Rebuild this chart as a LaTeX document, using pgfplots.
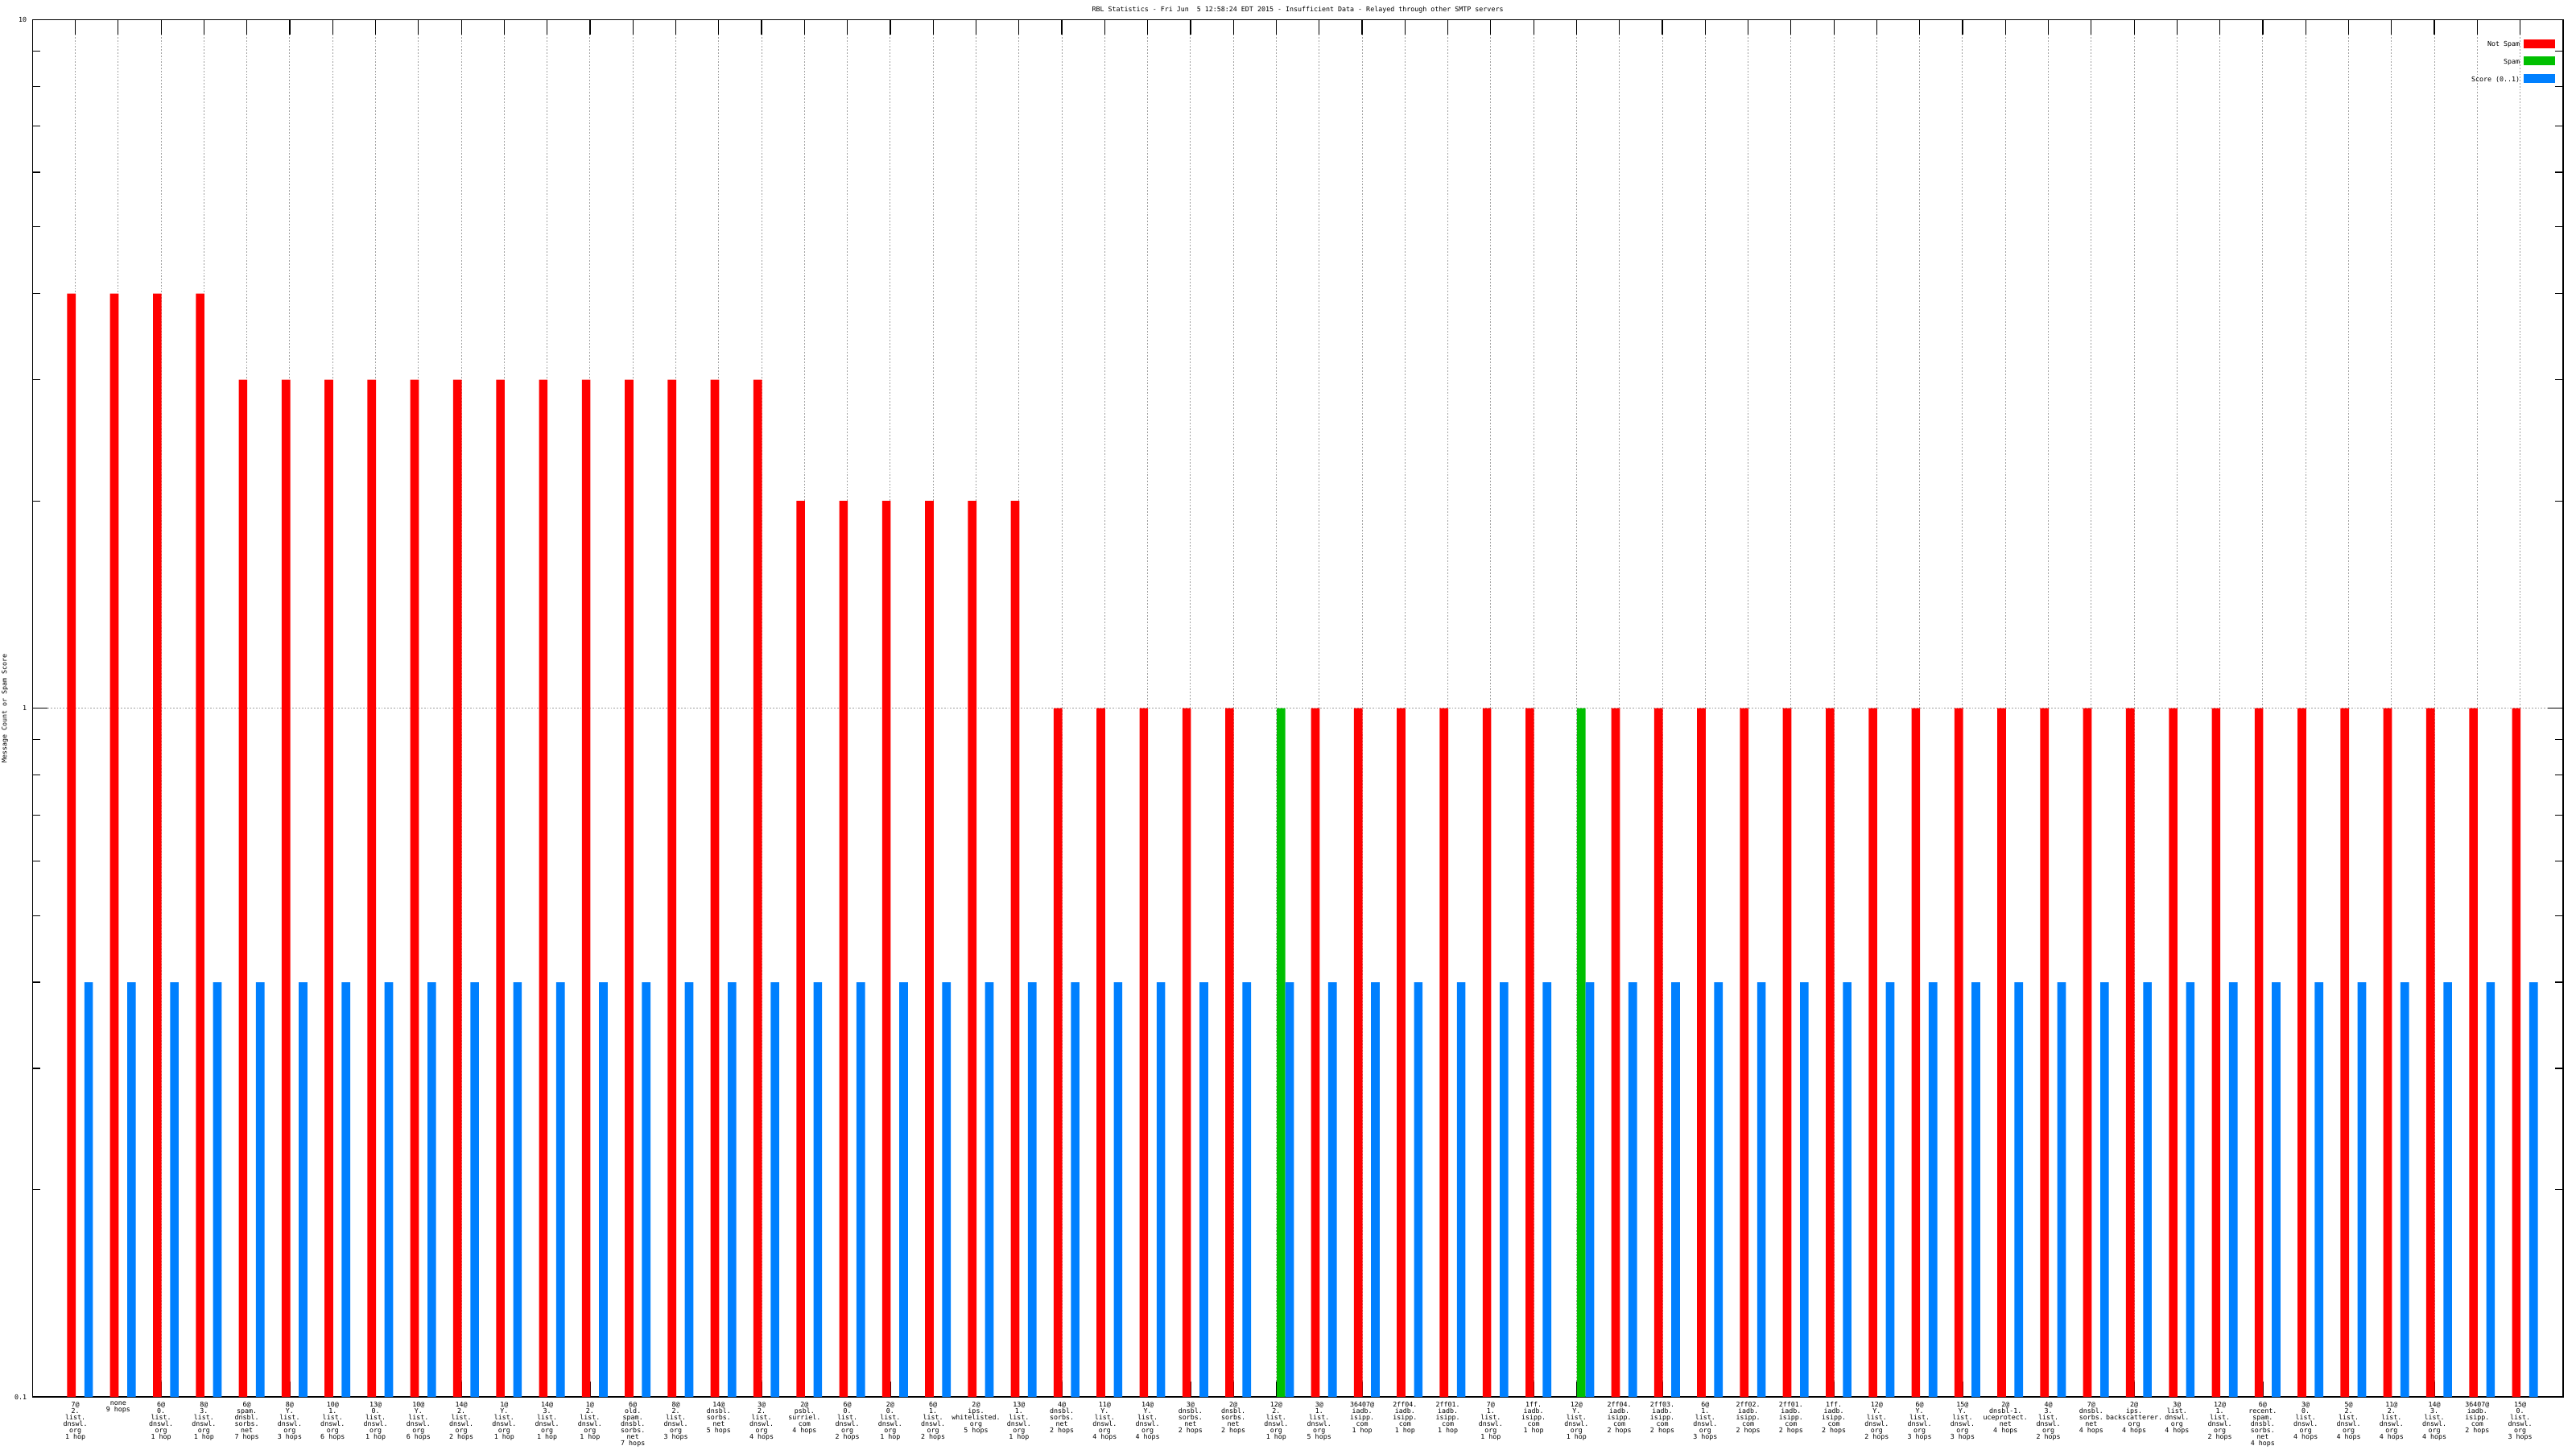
\documentclass[border=0pt]{standalone}
\usepackage{fontspec}
\setmainfont{DejaVu Sans Mono}
\usepackage{pgfplots}
\pgfplotsset{compat=1.18}
\definecolor{nsred}{RGB}{255,0,0}
\definecolor{spgreen}{RGB}{0,192,0}
\definecolor{scblue}{RGB}{0,128,255}
\definecolor{gridgray}{RGB}{160,160,160}
\newcommand\gfont{\fontsize{2.08pt}{2.03pt}\selectfont}
\begin{document}
\begin{tikzpicture}
\begin{axis}[
  at={(0,0)}, anchor=south west,
  scale only axis, width=785.9pt, height=427.675pt,
  ymode=log, ymin=0.1, ymax=10, log origin y=infty,
  xmin=-1, xmax=58,
  xtick={0,...,57},
  xticklabels={
{7@\\2.\\list.\\dnswl.\\org\\1 hop},
{none\\9 hops},
{6@\\0.\\list.\\dnswl.\\org\\1 hop},
{8@\\3.\\list.\\dnswl.\\org\\1 hop},
{6@\\spam.\\dnsbl.\\sorbs.\\net\\7 hops},
{8@\\Y.\\list.\\dnswl.\\org\\3 hops},
{10@\\1.\\list.\\dnswl.\\org\\6 hops},
{13@\\0.\\list.\\dnswl.\\org\\1 hop},
{10@\\Y.\\list.\\dnswl.\\org\\6 hops},
{14@\\2.\\list.\\dnswl.\\org\\2 hops},
{1@\\Y.\\list.\\dnswl.\\org\\1 hop},
{14@\\3.\\list.\\dnswl.\\org\\1 hop},
{1@\\2.\\list.\\dnswl.\\org\\1 hop},
{6@\\old.\\spam.\\dnsbl.\\sorbs.\\net\\7 hops},
{8@\\2.\\list.\\dnswl.\\org\\3 hops},
{14@\\dnsbl.\\sorbs.\\net\\5 hops},
{3@\\2.\\list.\\dnswl.\\org\\4 hops},
{2@\\psbl.\\surriel.\\com\\4 hops},
{6@\\0.\\list.\\dnswl.\\org\\2 hops},
{2@\\0.\\list.\\dnswl.\\org\\1 hop},
{6@\\1.\\list.\\dnswl.\\org\\2 hops},
{2@\\ips.\\whitelisted.\\org\\5 hops},
{13@\\1.\\list.\\dnswl.\\org\\1 hop},
{4@\\dnsbl.\\sorbs.\\net\\2 hops},
{11@\\Y.\\list.\\dnswl.\\org\\4 hops},
{14@\\Y.\\list.\\dnswl.\\org\\4 hops},
{3@\\dnsbl.\\sorbs.\\net\\2 hops},
{2@\\dnsbl.\\sorbs.\\net\\2 hops},
{12@\\2.\\list.\\dnswl.\\org\\1 hop},
{3@\\1.\\list.\\dnswl.\\org\\5 hops},
{36407@\\iadb.\\isipp.\\com\\1 hop},
{2ff04.\\iadb.\\isipp.\\com\\1 hop},
{2ff01.\\iadb.\\isipp.\\com\\1 hop},
{7@\\1.\\list.\\dnswl.\\org\\1 hop},
{1ff.\\iadb.\\isipp.\\com\\1 hop},
{12@\\Y.\\list.\\dnswl.\\org\\1 hop},
{2ff04.\\iadb.\\isipp.\\com\\2 hops},
{2ff03.\\iadb.\\isipp.\\com\\2 hops},
{6@\\1.\\list.\\dnswl.\\org\\3 hops},
{2ff02.\\iadb.\\isipp.\\com\\2 hops},
{2ff01.\\iadb.\\isipp.\\com\\2 hops},
{1ff.\\iadb.\\isipp.\\com\\2 hops},
{12@\\Y.\\list.\\dnswl.\\org\\2 hops},
{6@\\Y.\\list.\\dnswl.\\org\\3 hops},
{15@\\Y.\\list.\\dnswl.\\org\\3 hops},
{2@\\dnsbl-1.\\uceprotect.\\net\\4 hops},
{4@\\3.\\list.\\dnswl.\\org\\2 hops},
{7@\\dnsbl.\\sorbs.\\net\\4 hops},
{2@\\ips.\\backscatterer.\\org\\4 hops},
{3@\\list.\\dnswl.\\org\\4 hops},
{12@\\1.\\list.\\dnswl.\\org\\2 hops},
{6@\\recent.\\spam.\\dnsbl.\\sorbs.\\net\\4 hops},
{3@\\0.\\list.\\dnswl.\\org\\4 hops},
{5@\\2.\\list.\\dnswl.\\org\\4 hops},
{11@\\2.\\list.\\dnswl.\\org\\4 hops},
{14@\\3.\\list.\\dnswl.\\org\\4 hops},
{36407@\\iadb.\\isipp.\\com\\2 hops},
{15@\\0.\\list.\\dnswl.\\org\\3 hops}
  },
  ytick={0.1,1,10}, yticklabels={0.1,1,10},
  minor ytick={0.2,0.3,0.4,0.5,0.6,0.7,0.8,0.9,2,3,4,5,6,7,8,9},
  tick align=inside, tick pos=both,
  major tick length=4.7pt, minor tick length=2.4pt,
  tick style={black, line width=0.3pt},
  axis line style={line width=0.3pt},
  xmajorgrids, ymajorgrids,
  major grid style={gridgray, line width=0.25pt, dash pattern=on 0.45pt off 0.5pt},
  font=\gfont,
  xticklabel style={font=\gfont, align=center, inner sep=0pt, anchor=north, yshift=-1.3pt},
  yticklabel style={font=\gfont, inner sep=0pt, anchor=east, xshift=-1.6pt},
  title={RBL Statistics - Fri Jun~~5 12:58:24 EDT 2015 - Insufficient Data - Relayed through other SMTP servers},
  every axis title/.style={at={(0.5,1)}, anchor=center, yshift=3.1pt, font=\gfont, inner sep=0pt},
  ylabel={Message Count or Spam Score},
  every axis y label/.style={at={(rel axis cs:0,0.5)}, xshift=-8.5pt, rotate=90, anchor=center, font=\gfont, inner sep=0pt},
  legend style={at={(1,1)}, anchor=north east, xshift=-2.25pt, yshift=-5.9pt, draw=none, fill=none, inner sep=0pt, row sep=1.65pt, column sep=1.25pt, nodes={inner sep=0pt, font=\gfont}},
  legend plot pos=right, legend cell align=right,
]
\addplot[ybar, bar width=0.2, bar shift=-0.09, fill=nsred, draw=none,
  legend image code/.code={\fill[nsred] (0pt,-0.5pt) rectangle (9.75pt,2.25pt);}]
  coordinates {(0,4)(1,4)(2,4)(3,4)
  (4,3)(5,3)(6,3)(7,3)(8,3)(9,3)(10,3)(11,3)(12,3)(13,3)(14,3)(15,3)(16,3)
  (17,2)(18,2)(19,2)(20,2)(21,2)(22,2)
  (23,1)(24,1)(25,1)(26,1)(27,1)
  (29,1)(30,1)(31,1)(32,1)(33,1)(34,1)
  (36,1)(37,1)(38,1)(39,1)(40,1)(41,1)(42,1)(43,1)(44,1)(45,1)(46,1)
  (47,1)(48,1)(49,1)(50,1)(51,1)(52,1)(53,1)(54,1)(55,1)(56,1)(57,1)};
\addlegendentry{Not Spam}
\addplot[ybar, bar width=0.2, bar shift=0.11, fill=spgreen, draw=none,
  legend image code/.code={\fill[spgreen] (0pt,-0.5pt) rectangle (9.75pt,2.25pt);}]
  coordinates {(28,1)(35,1)};
\addlegendentry{Spam}
\addplot[ybar, bar width=0.2, bar shift=0.31, fill=scblue, draw=none,
  legend image code/.code={\fill[scblue] (0pt,-0.5pt) rectangle (9.75pt,2.25pt);}]
  coordinates {(0,0.4)(1,0.4)(2,0.4)(3,0.4)(4,0.4)(5,0.4)(6,0.4)(7,0.4)(8,0.4)(9,0.4)
  (10,0.4)(11,0.4)(12,0.4)(13,0.4)(14,0.4)(15,0.4)(16,0.4)(17,0.4)(18,0.4)(19,0.4)
  (20,0.4)(21,0.4)(22,0.4)(23,0.4)(24,0.4)(25,0.4)(26,0.4)(27,0.4)(28,0.4)(29,0.4)
  (30,0.4)(31,0.4)(32,0.4)(33,0.4)(34,0.4)(35,0.4)(36,0.4)(37,0.4)(38,0.4)(39,0.4)
  (40,0.4)(41,0.4)(42,0.4)(43,0.4)(44,0.4)(45,0.4)(46,0.4)(47,0.4)(48,0.4)(49,0.4)
  (50,0.4)(51,0.4)(52,0.4)(53,0.4)(54,0.4)(55,0.4)(56,0.4)(57,0.4)};
\addlegendentry{Score (0..1)}
\end{axis}
\pgfresetboundingbox
\path[use as bounding box] (-10.075pt,-16.25pt) rectangle (789.925pt,433.75pt);
\end{tikzpicture}
\end{document}
